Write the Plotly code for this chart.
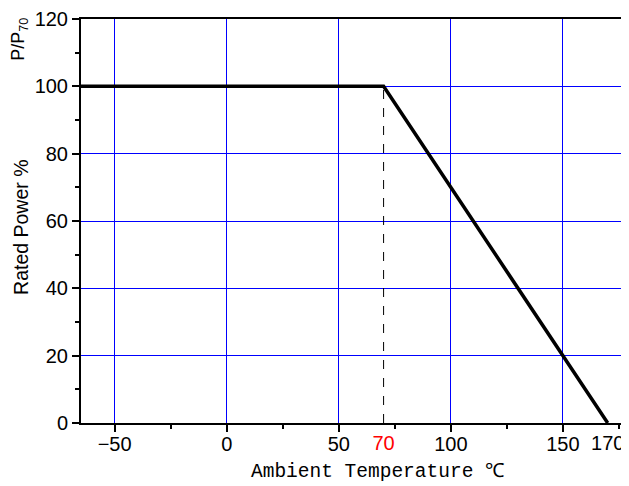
import plotly.graph_objects as go

# Derating curve data
temp = [-65, 70, 170]
power = [100, 100, 0]
knee_x = [70, 70]
knee_y = [0, 100]

x_major = [-50, 0, 50, 100, 150]
x_minor = [-25, 25, 75, 125, 175]
x_extra_vals = [70, 170]
x_extra_text = ["<span style='color:red'>70</span>", "170"]
y_major = [0, 20, 40, 60, 80, 100, 120]

fig = go.Figure()
fig.add_trace(go.Scatter(x=knee_x, y=knee_y, mode="lines",
                         line=dict(color="black", width=1, dash="dash"),
                         showlegend=False, hoverinfo="skip"))
fig.add_trace(go.Scatter(x=temp, y=power, mode="lines",
                         line=dict(color="black", width=3.5),
                         showlegend=False))
# invisible trace on secondary axis for extra labels
fig.add_trace(go.Scatter(x=[None], y=[None], xaxis="x2", showlegend=False))

tickfont = dict(family="Liberation Sans, Arial", size=20, color="black")

fig.update_layout(
    width=621, height=478,
    margin=dict(l=73, r=0, t=9, b=63),
    plot_bgcolor="white", paper_bgcolor="white",
    xaxis=dict(range=[-65, 179.5], tickvals=x_major, showgrid=True,
               gridcolor="#0000ff", gridwidth=1, zeroline=False,
               showline=True, linecolor="black", linewidth=2, mirror=True,
               ticks="outside", ticklen=7, tickwidth=1.5, tickcolor="black",
               tickfont=tickfont, ticklabelstandoff=-5,
               ticklabeloverflow="allow",
               minor=dict(tickvals=x_minor, ticks="outside",
                          ticklen=4, tickcolor="black", showgrid=False)),
    xaxis2=dict(range=[-65, 179.5], overlaying="x", side="bottom",
                tickvals=x_extra_vals, ticktext=x_extra_text,
                ticks="outside", ticklen=7, tickcolor="rgba(0,0,0,0)",
                ticklabelstandoff=-5, ticklabeloverflow="allow",
                showgrid=False, zeroline=False, showline=False,
                tickfont=tickfont),
    yaxis=dict(range=[0, 120], tickvals=y_major, showgrid=True,
               gridcolor="#0000ff", gridwidth=1, zeroline=False,
               showline=True, linecolor="black", linewidth=2, mirror=False,
               ticks="outside", ticklen=7, tickwidth=1.5, tickcolor="black",
               tickfont=tickfont, ticklabeloverflow="allow",
               minor=dict(dtick=10, ticks="outside", ticklen=4,
                          tickcolor="black", showgrid=False)),
    annotations=[
        dict(text="Rated Power %", textangle=-90, xref="paper", yref="paper",
             x=-0.1086, y=0.484, xanchor="center", yanchor="middle", showarrow=False,
             font=dict(family="Liberation Sans, Arial", size=19.5, color="black")),
        dict(text="P/P<sub>70</sub>", textangle=-90, xref="paper", yref="paper",
             x=-0.112, y=0.95, xanchor="center", yanchor="middle", showarrow=False,
             font=dict(family="Liberation Sans, Arial", size=18, color="black")),
        dict(text="Ambient Temperature ℃", xref="paper", yref="paper",
             x=0.541, y=-0.1207, xanchor="center", yanchor="middle", showarrow=False,
             font=dict(family="Liberation Mono, Courier New", size=19.5, color="black")),
    ],
)

fig.write_html("out.html")
